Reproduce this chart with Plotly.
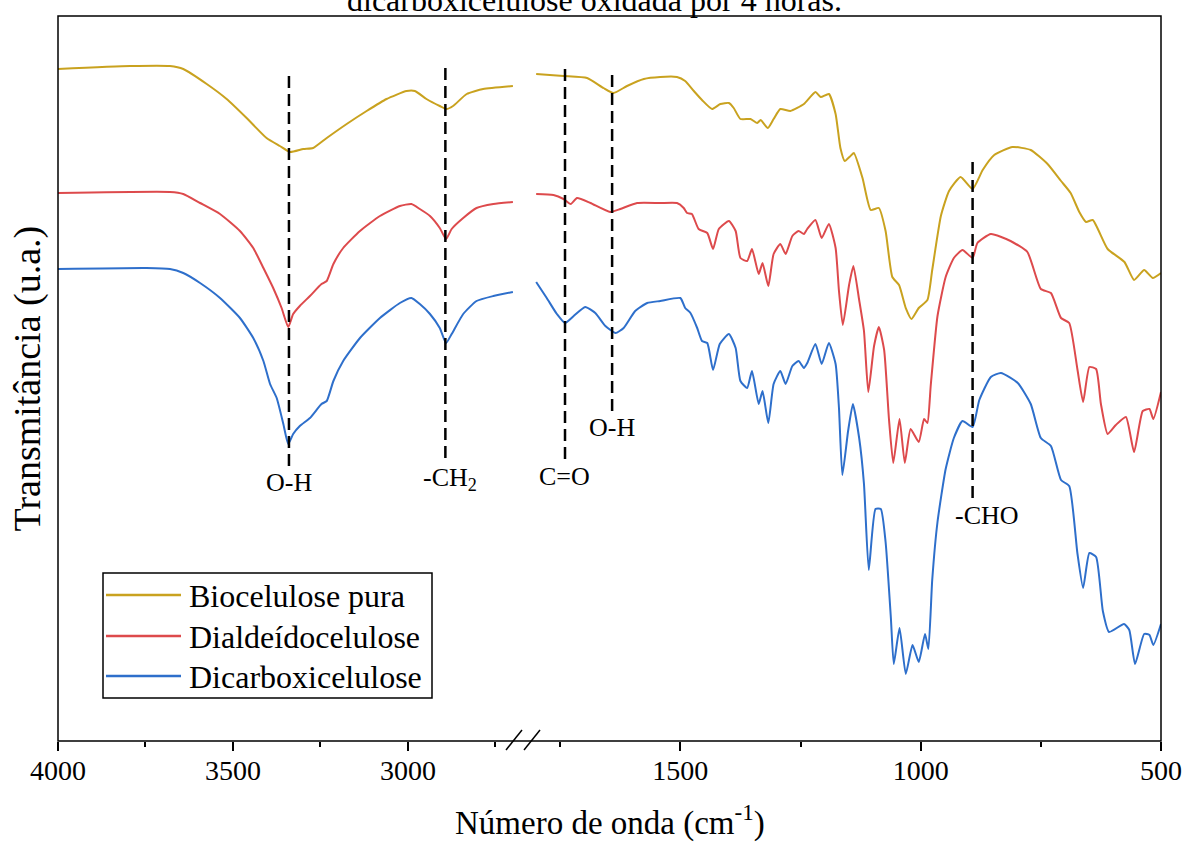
import plotly.graph_objects as go

# ---------------- data (wavenumber in cm-1, transmittance in arbitrary units) ----------------
# Left segment: 4000-2700 cm-1
wn_left_bio = [4000, 3794, 3680, 3642, 3575, 3518, 3461, 3404, 3366, 3337, 3299, 3271, 3232, 3175, 3118,
               3061, 3004, 2980, 2947, 2909, 2890, 2871, 2832, 2785, 2700]
t_left_bio = [672, 675, 675, 672, 657, 642, 623, 603, 595, 589, 592, 593, 603, 617, 630,
              642, 650, 650, 642, 635, 632, 635, 647, 652, 655]

wn_left_dial = [4000, 3680, 3642, 3594, 3537, 3480, 3442, 3413, 3385, 3361, 3342, 3328, 3309, 3280, 3247,
                3232, 3213, 3185, 3137, 3080, 3023, 2990, 2966, 2937, 2909, 2891, 2875, 2842, 2804, 2756, 2700]
t_left_dial = [548, 549, 547, 538, 527, 510, 493, 473, 453, 433, 414, 427, 435, 445, 457,
               460, 477, 493, 510, 525, 535, 537, 532, 525, 513, 502, 512, 523, 533, 537, 539]

wn_left_dicarb = [4000, 3747, 3680, 3642, 3594, 3537, 3480, 3442, 3413, 3394, 3375, 3356, 3342, 3328, 3309,
                  3280, 3247, 3232, 3213, 3185, 3137, 3080, 3023, 2990, 2966, 2937, 2909, 2891, 2875, 2842,
                  2804, 2756, 2700]
t_left_dicarb = [472, 473, 472, 468, 458, 443, 423, 403, 380, 357, 343, 317, 297, 307, 315,
                 323, 337, 340, 360, 380, 403, 423, 438, 443, 437, 427, 413, 398, 407, 427,
                 440, 445, 449]

# Right segment: 1800-500 cm-1
wn_right_bio = [1800, 1743, 1694, 1660, 1639, 1611, 1576, 1542, 1507, 1490, 1472, 1455, 1434, 1417, 1399,
                1389, 1375, 1354, 1340, 1333, 1318, 1306, 1292, 1271, 1243, 1219, 1208, 1191, 1177, 1167,
                1158, 1146, 1139, 1121, 1104, 1087, 1073, 1059, 1045, 1031, 1019, 1004, 986, 976, 958,
                941, 917, 892, 871, 847, 809, 771, 736, 708, 688, 670, 656, 642, 611, 576,
                556, 535, 517, 500]
t_right_bio = [667, 665, 663, 653, 648, 655, 662, 664, 664, 660, 650, 641, 632, 637, 638,
               633, 622, 622, 618, 621, 613, 622, 632, 630, 637, 649, 644, 647, 627, 593,
               580, 585, 588, 563, 531, 533, 510, 464, 456, 433, 422, 433, 441, 471, 525,
               550, 564, 552, 571, 586, 594, 591, 577, 560, 548, 529, 519, 521, 492, 479,
               461, 471, 463, 468]

wn_right_dial = [1800, 1764, 1743, 1728, 1715, 1687, 1646, 1625, 1590, 1542, 1507, 1493, 1486, 1476, 1462,
                 1444, 1432, 1420, 1399, 1385, 1375, 1361, 1351, 1337, 1329, 1317, 1306, 1292, 1281, 1267,
                 1254, 1243, 1236, 1219, 1206, 1191, 1177, 1170, 1162, 1149, 1140, 1128, 1118, 1109, 1097,
                 1087, 1076, 1066, 1057, 1044, 1033, 1021, 1004, 993, 986, 979, 965, 948, 931, 913,
                 892, 882, 854, 813, 778, 750, 729, 708, 691, 674, 662, 649, 635, 625, 611,
                 594, 573, 556, 538, 524, 516, 500]
t_right_dial = [547, 546, 542, 537, 543, 538, 529, 532, 538, 538, 538, 533, 528, 527, 512,
                508, 492, 512, 520, 510, 483, 480, 492, 467, 478, 455, 487, 497, 487, 505,
                510, 507, 512, 521, 503, 517, 493, 450, 416, 456, 475, 441, 410, 349, 395,
                414, 391, 322, 278, 322, 278, 312, 299, 322, 318, 356, 425, 464, 483, 491,
                483, 498, 507, 500, 489, 452, 448, 423, 418, 372, 339, 374, 372, 337, 307,
                316, 324, 289, 330, 332, 322, 349]

wn_right_dicarb = [1800, 1778, 1757, 1740, 1722, 1698, 1677, 1656, 1635, 1618, 1594, 1569, 1542, 1500, 1490,
                   1479, 1465, 1455, 1444, 1432, 1418, 1399, 1385, 1375, 1361, 1351, 1337, 1329, 1317, 1306,
                   1292, 1281, 1267, 1254, 1243, 1236, 1219, 1206, 1191, 1177, 1170, 1163, 1151, 1141, 1128,
                   1118, 1108, 1094, 1083, 1073, 1062, 1056, 1044, 1031, 1017, 1004, 991, 984, 976, 965,
                   948, 931, 913, 892, 878, 854, 833, 798, 771, 750, 729, 708, 691, 674, 662,
                   649, 635, 621, 608, 577, 566, 554, 535, 524, 516, 500]
t_right_dicarb = [459, 443, 427, 418, 425, 434, 428, 415, 408, 413, 430, 438, 440, 443, 433,
                  428, 413, 400, 398, 371, 397, 407, 393, 360, 353, 370, 337, 350, 318, 357,
                  370, 357, 375, 380, 373, 378, 397, 377, 398, 377, 333, 266, 310, 337, 303,
                  257, 171, 232, 232, 199, 123, 77, 113, 67, 96, 79, 107, 92, 161, 219,
                  272, 303, 320, 314, 341, 364, 368, 358, 337, 303, 295, 261, 255, 188, 153,
                  188, 184, 130, 109, 117, 111, 77, 107, 106, 96, 117]

series_names = ["Biocelulose pura", "Dialdeídocelulose", "Dicarboxicelulose"]
series_colors = ["#C9A21F", "#DD4A4C", "#2E6FCB"]

# Band markers
band_labels = ["O-H", "-CH<sub>2</sub>", "C=O", "O-H", "-CHO"]
band_wn = [3340, 2893, 1740, 1642, 892]
band_axis = ["x", "x", "x2", "x2", "x2"]
band_top = [667, 674, 673, 667, 581]
band_bottom = [275, 283, 282, 330, 243]
label_wn = [3340, 2880, 1741, 1642, 862]
label_y = [259, 262, 265, 314, 226]

# axis ranges
left_range = [4000, 2674]
right_range = [1817, 500]

# ---------------- figure ----------------
W, H = 1185, 842
ML, MR, MT, MB = 58, 24, 16, 101
PW = W - ML - MR
PH = H - MT - MB
FONT = "Liberation Serif"


def px2paper_x(px):
    return (px - ML) / PW


def px2paper_y(py):
    return (H - MB - py) / PH


fig = go.Figure()

left_sets = [(wn_left_bio, t_left_bio), (wn_left_dial, t_left_dial), (wn_left_dicarb, t_left_dicarb)]
right_sets = [(wn_right_bio, t_right_bio), (wn_right_dial, t_right_dial), (wn_right_dicarb, t_right_dicarb)]

for i, name in enumerate(series_names):
    xl, yl = left_sets[i]
    fig.add_trace(go.Scatter(x=xl, y=yl, mode="lines", name=name, legendgroup=name,
                             line=dict(color=series_colors[i], width=2, shape="spline", smoothing=0.5),
                             xaxis="x", yaxis="y", showlegend=False))
    xr, yr = right_sets[i]
    fig.add_trace(go.Scatter(x=xr, y=yr, mode="lines", name=name, legendgroup=name,
                             line=dict(color=series_colors[i], width=2, shape="spline", smoothing=0.5),
                             xaxis="x2", yaxis="y", showlegend=False))

shapes = []
annotations = []

# frame
shapes.append(dict(type="rect", xref="paper", yref="paper", x0=0, x1=1, y0=0, y1=1,
                   line=dict(color="black", width=1.5), layer="above"))
# axis break slashes
for x0p, x1p in [(506, 522), (524, 540)]:
    shapes.append(dict(type="line", xref="paper", yref="paper",
                       x0=px2paper_x(x0p), x1=px2paper_x(x1p),
                       y0=px2paper_y(750), y1=px2paper_y(730),
                       line=dict(color="black", width=1.5)))

# band marker dashed lines + labels
for lab, wn, ax, yt, yb, lx, ly in zip(band_labels, band_wn, band_axis, band_top, band_bottom, label_wn, label_y):
    shapes.append(dict(type="line", xref=ax, yref="y", x0=wn, x1=wn, y0=yb, y1=yt,
                       line=dict(color="black", width=2.5, dash="12px,6px")))
    annotations.append(dict(xref=ax, yref="y", x=lx, y=ly, text=lab, showarrow=False,
                            font=dict(family=FONT, size=26, color="black"),
                            xanchor="center", yanchor="middle"))

# legend (drawn as a boxed key)
leg_left, leg_right, leg_top, leg_bottom = 103, 432, 573, 698
shapes.append(dict(type="rect", xref="paper", yref="paper",
                   x0=px2paper_x(leg_left), x1=px2paper_x(leg_right),
                   y0=px2paper_y(leg_bottom), y1=px2paper_y(leg_top),
                   line=dict(color="black", width=1.5), fillcolor="white", layer="above"))
leg_rows = [595, 636, 676]
for name, col, ry in zip(series_names, series_colors, leg_rows):
    shapes.append(dict(type="line", xref="paper", yref="paper",
                       x0=px2paper_x(106), x1=px2paper_x(181),
                       y0=px2paper_y(ry), y1=px2paper_y(ry),
                       line=dict(color=col, width=2.5), layer="above"))
    annotations.append(dict(xref="paper", yref="paper", x=px2paper_x(187), y=px2paper_y(ry + 1),
                            text=name, showarrow=False,
                            font=dict(family=FONT, size=32, color="black"),
                            xanchor="left", yanchor="middle"))

# axis titles
annotations.append(dict(xref="paper", yref="paper", x=0.5, y=px2paper_y(820),
                        text="Número de onda (cm<sup>-1</sup>)", showarrow=False,
                        font=dict(family=FONT, size=33, color="black"),
                        xanchor="center", yanchor="middle"))
annotations.append(dict(xref="paper", yref="paper", x=px2paper_x(27), y=0.5,
                        text="Transmitância (u.a.)", showarrow=False, textangle=-90,
                        font=dict(family=FONT, size=38, color="black"),
                        xanchor="center", yanchor="middle"))
# cut-off caption at the very top (as in the source image)
annotations.append(dict(xref="paper", yref="paper", x=px2paper_x(594), y=px2paper_y(20),
                        text="dicarboxicelulose oxidada por 4 horas.", showarrow=False,
                        font=dict(family=FONT, size=32, color="black"),
                        xanchor="center", yanchor="bottom"))

axis_common = dict(showgrid=False, zeroline=False, showline=False, automargin=False,
                   ticks="outside", ticklen=9, tickwidth=1.5, tickcolor="black",
                   tick0=0, dtick=500, ticklabelstandoff=-5,
                   tickfont=dict(family=FONT, size=28, color="black"),
                   minor=dict(ticks="outside", ticklen=5, tickwidth=1.5, tickcolor="black", dtick=250, tick0=0))

split_left = px2paper_x(522)
split_right = px2paper_x(528)

fig.update_layout(
    width=W, height=H,
    margin=dict(l=ML, r=MR, t=MT, b=MB, autoexpand=False),
    paper_bgcolor="white", plot_bgcolor="white",
    font=dict(family=FONT, color="black"),
    showlegend=False,
    xaxis=dict(domain=[0, split_left], range=left_range, anchor="y", **axis_common),
    xaxis2=dict(domain=[split_right, 1], range=right_range, anchor="y", **axis_common),
    yaxis=dict(range=[0, PH], showticklabels=False, ticks="", showgrid=False,
               zeroline=False, showline=False, automargin=False),
    shapes=shapes,
    annotations=annotations,
)

fig.write_html("out.html",
               config={"displayModeBar": False},
               post_script="document.body.style.margin='0px';document.body.style.padding='0px';"
                           "document.body.style.overflow='hidden';")
